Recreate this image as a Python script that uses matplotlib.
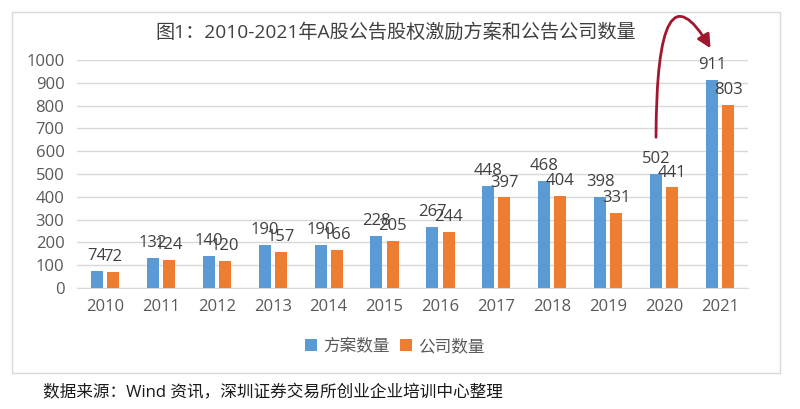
import numpy as np
import matplotlib.pyplot as plt
from matplotlib.patches import Rectangle

plt.rcParams['font.family'] = ['Open Sans', 'Noto Sans CJK SC', 'DejaVu Sans']

# 数据
years = ['2010', '2011', '2012', '2013', '2014', '2015',
         '2016', '2017', '2018', '2019', '2020', '2021']
plans = [74, 132, 140, 190, 190, 228, 267, 448, 468, 398, 502, 911]
companies = [72, 124, 120, 157, 166, 205, 244, 397, 404, 331, 441, 803]

blue = '#5B9BD5'
orange = '#ED7D31'

fig = plt.figure(figsize=(8, 4.09), dpi=100)
W, H = 800, 409

# 外框
fig.patches.append(Rectangle((12 / W, 1 - 373 / H), 768 / W, 361 / H,
                             transform=fig.transFigure, fill=False,
                             edgecolor='#D9D9D9', linewidth=1))

ax = fig.add_axes([77 / W, 1 - 288 / H, (748 - 77) / W, 228 / H])

x = np.arange(len(years))
bw = 0.215
off = 0.145
ax.bar(x - off, plans, bw, color=blue, label='方案数量', zorder=3)
ax.bar(x + off, companies, bw, color=orange, label='公司数量', zorder=3)

for i in range(len(years)):
    ax.annotate(str(plans[i]), (x[i] - off, plans[i]), xytext=(0, 5),
                textcoords='offset points', ha='center', va='bottom',
                fontsize=12, color='#404040', zorder=5)
    ax.annotate(str(companies[i]), (x[i] + off, companies[i]), xytext=(0, 5),
                textcoords='offset points', ha='center', va='bottom',
                fontsize=12, color='#404040', zorder=5)

ax.set_xlim(-0.5, len(years) - 0.5)
ax.set_ylim(0, 1000)
ax.set_yticks(range(0, 1001, 100))
ax.set_xticks(x)
ax.set_xticklabels(years)
ax.tick_params(length=0, labelsize=12, colors='#595959')
ax.tick_params(axis='y', pad=9)
ax.tick_params(axis='x', pad=8)
ax.grid(axis='y', color='#D9D9D9', linewidth=1, zorder=0)
for s in ['top', 'right', 'left']:
    ax.spines[s].set_visible(False)
ax.spines['bottom'].set_color('#D9D9D9')

# 弯曲箭头
ax.annotate('', xy=(x[11] - off, plans[11] + 130),
            xytext=(x[10] - off, plans[10] + 147),
            arrowprops=dict(arrowstyle='-|>,head_length=0.8,head_width=0.4',
                            color='#A0182E', lw=2,
                            connectionstyle='angle3,angleA=90,angleB=-60'),
            annotation_clip=False)

fig.text(396 / W, 1 - 33 / H, '图1：2010-2021年A股公告股权激励方案和公告公司数量',
         ha='center', va='center', fontsize=13.8, color='#404040')

fig.legend(loc='center', bbox_to_anchor=(395 / W, 1 - 347 / H), ncol=2,
           frameon=False, fontsize=12, handlelength=0.7, handleheight=0.7,
           handletextpad=0.4, columnspacing=0.6, labelcolor='#595959')

fig.text(43 / W, 1 - 393 / H, '数据来源：Wind 资讯，深圳证券交易所创业企业培训中心整理',
         ha='left', va='center', fontsize=12, color='#1A1A1A')

fig.savefig('out.png', dpi=100)
